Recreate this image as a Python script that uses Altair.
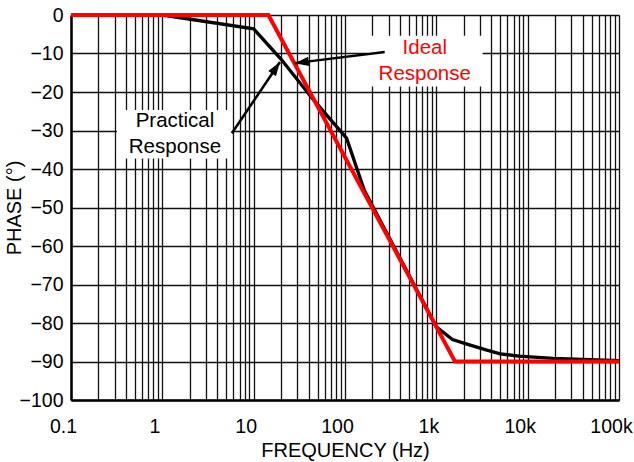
import altair as alt
import pandas as pd

# ---- data ----
practical_freq = [0.1, 1, 10, 20, 45, 104, 163, 1000, 1500, 2300, 3500, 5000, 8000, 19000, 100000]
practical_phase = [0, 0, -3.6, -11.5, -22, -32, -45.6, -81, -84.3, -85.7, -87, -88, -88.6, -89.2, -89.8]

ideal_freq = [0.1, 14.5, 1600, 100000]
ideal_phase = [0, 0, -90, -90]

decade_ticks = [0.1, 1, 10, 100, 1000, 10000, 100000]
decade_labels = ["0.1", "1", "10", "100", "1k", "10k", "100k"]
phase_ticks = [0, -10, -20, -30, -40, -50, -60, -70, -80, -90, -100]

# annotation text (two callouts)
practical_note = ["Practical", "Response"]
practical_note_freq = [1.374, 1.374]
practical_note_phase = [-29.1, -35.9]
ideal_note = ["Ideal", "Response"]
ideal_note_freq = [747, 747]
ideal_note_phase = [-10.1, -16.9]

# callout boxes
box_f1 = [0.318, 177]
box_f2 = [5.77, 3216]
box_p1 = [-24.7, -5.4]
box_p2 = [-37.3, -18.6]

# arrows: tail -> tip
arrow_tail_f = [5.77, 272]
arrow_tail_p = [-30.7, -9.6]
arrow_tip_f = [19.4, 28.2]
arrow_tip_p = [-12.2, -12.5]
arrow_angle = [34, 263]

# minor grid positions (1..9 per decade)
grid_values = [round(m * 10.0 ** e, 6) for e in range(-1, 5) for m in range(1, 10)] + [100000]

FONT = "Liberation Sans"

label_expr = ""
for v, l in zip(decade_ticks, decade_labels):
    label_expr += f"datum.value == {v} ? '{l}' : "
label_expr += "''"

xscale = alt.Scale(type="log", domain=[0.1, 100000], nice=False)
yscale = alt.Scale(domain=[-100, 0], nice=False)

xaxis = alt.Axis(
    values=grid_values, labelExpr=label_expr, grid=True, gridColor="#111", gridWidth=1.3,
    gridOpacity=1, ticks=False, tickSize=0, domain=True, domainColor="#000", domainWidth=2.5,
    labelFont=FONT, labelFontSize=19.5, labelColor="#000", labelPadding=17, labelFlush=False,
    labelOverlap=False, labelOffset=-8, title="FREQUENCY (Hz)", titleFont=FONT, titleFontSize=20,
    titleFontWeight="normal", titleColor="#000", titleX=274, titleY=56.5,
    titleBaseline="alphabetic", titleAlign="center",
)
yaxis = alt.Axis(
    values=phase_ticks, grid=True, gridColor="#111", gridWidth=1.3, gridOpacity=1,
    ticks=False, tickSize=0, domain=True, domainColor="#000", domainWidth=2.5,
    labelFont=FONT, labelFontSize=19.5, labelColor="#000", labelPadding=8, labelFlush=False,
    labelOverlap=False, title="PHASE (°)", titleFont=FONT, titleFontSize=20,
    titleFontWeight="normal", titleColor="#000", titleX=-51, titleY=192.5,
    titleBaseline="alphabetic", titleAlign="center", titleAngle=270,
)


def X(field):
    return alt.X(field, type="quantitative", scale=xscale, axis=xaxis)


def Y(field):
    return alt.Y(field, type="quantitative", scale=yscale, axis=yaxis)


practical_df = pd.DataFrame({"f": practical_freq, "p": practical_phase, "o": range(len(practical_freq))})
ideal_df = pd.DataFrame({"f": ideal_freq, "p": ideal_phase, "o": range(len(ideal_freq))})
box_df = pd.DataFrame({"f1": box_f1, "f2": box_f2, "p1": box_p1, "p2": box_p2})
arrow_df = pd.DataFrame({"f1": arrow_tail_f, "p1": arrow_tail_p, "f2": arrow_tip_f,
                         "p2": arrow_tip_p, "a": arrow_angle})
pnote_df = pd.DataFrame({"f": practical_note_freq, "p": practical_note_phase, "t": practical_note})
inote_df = pd.DataFrame({"f": ideal_note_freq, "p": ideal_note_phase, "t": ideal_note})

practical_line = alt.Chart(practical_df).mark_line(color="#000", strokeWidth=3.3, strokeJoin="miter").encode(
    x=X("f"), y=Y("p"), order="o:Q")
ideal_line = alt.Chart(ideal_df).mark_line(color="#ff0000", strokeWidth=4, strokeJoin="miter").encode(
    x=X("f"), y=Y("p"), order="o:Q")

boxes = alt.Chart(box_df).mark_rect(color="#fff", opacity=1).encode(
    x=X("f1"), x2="f2", y=Y("p1"), y2="p2")

arrow_lines = alt.Chart(arrow_df).mark_rule(color="#000", strokeWidth=2.5).encode(
    x=X("f1"), y=Y("p1"), x2="f2", y2="p2")
arrow_heads = alt.Chart(arrow_df).mark_point(
    shape="M0,0 L0.33,1 L-0.33,1 Z", filled=True, color="#000", opacity=1, size=784, strokeWidth=0
).encode(x=X("f2"), y=Y("p2"), angle=alt.Angle("a:Q", scale=None))

pnote = alt.Chart(pnote_df).mark_text(
    font=FONT, fontSize=20.5, color="#000", align="center", baseline="alphabetic"
).encode(x=X("f"), y=Y("p"), text="t:N")
inote = alt.Chart(inote_df).mark_text(
    font=FONT, fontSize=20.5, color="#ff0000", align="center", baseline="alphabetic"
).encode(x=X("f"), y=Y("p"), text="t:N")

chart = alt.layer(
    boxes, practical_line, ideal_line, arrow_lines, arrow_heads, pnote, inote
).properties(
    width=548, height=385,
    autosize=alt.AutoSizeParams(type="none"),
    padding={"left": 71, "top": 15, "right": 15, "bottom": 62},
    background="#ffffff",
).configure_view(stroke=None)

chart.save("out.html", embed_options={"renderer": "svg", "actions": False})
